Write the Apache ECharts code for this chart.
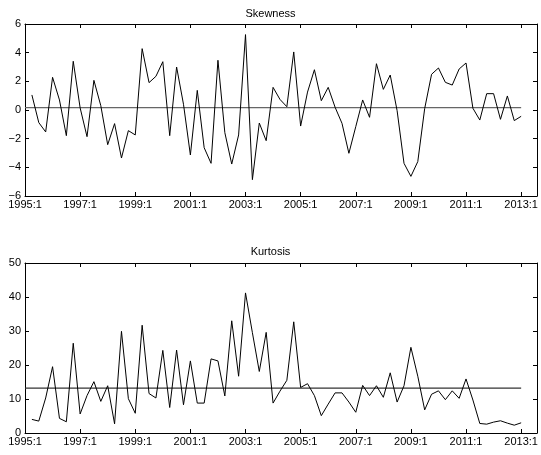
<!DOCTYPE html>
<html><head><meta charset="utf-8">
<script src="https://cdn.jsdelivr.net/npm/echarts@6/dist/echarts.min.js"></script>
<style>html,body{margin:0;padding:0;background:#fff}#c{width:541px;height:455px}</style>
</head><body><div id="c"></div>
<script>
// quarters from 1995:2 to 2013:1 (index 1..72 counting quarters since 1995:1)
const startYear = 1995;
const skewness = [1.05,-0.88,-1.53,2.28,0.70,-1.79,3.40,0.15,-1.86,2.07,0.30,-2.42,-0.95,-3.35,-1.44,-1.74,
  4.28,1.91,2.35,3.37,-1.79,3.00,0.40,-3.14,1.37,-2.63,-3.72,3.47,-1.58,-3.77,-1.74,5.26,-4.86,-0.91,-2.14,1.58,
  0.74,0.23,4.05,-1.12,1.25,2.81,0.65,1.58,0.19,-0.93,-3.02,-1.16,0.70,-0.51,3.23,1.44,2.44,-0.05,-3.72,-4.63,
  -3.60,0.10,2.49,2.93,1.93,1.74,2.86,3.28,0.12,-0.70,1.14,1.14,-0.65,0.98,-0.74,-0.44];
const kurtosis = [4.0,3.5,10.3,19.5,4.3,3.3,26.4,5.6,11.0,15.1,9.3,13.9,2.7,29.9,10.1,5.8,
  31.7,11.6,10.3,24.3,7.5,24.4,8.3,21.2,8.8,8.8,21.8,21.2,10.9,33.0,16.7,41.2,29.5,18.1,29.6,8.8,
  12.3,15.5,32.7,13.4,14.5,11.0,5.1,8.5,11.8,11.8,9.1,6.1,14.0,11.0,13.9,10.5,17.7,9.1,13.9,25.2,
  16.7,6.8,11.4,12.4,9.8,12.4,10.2,15.9,9.7,2.8,2.6,3.2,3.6,2.9,2.3,3.0];
const skewMean = 0.16;
const kurtMean = 13.2;
const titles = ['Skewness','Kurtosis'];

const toPairs = arr => arr.map((v,i)=>[i+1,v]);
const meanLine = m => [[0,m],[skewness.length,m]];
const font = "'Liberation Sans', Arial, Helvetica, sans-serif";
const xLab = v => (Math.abs(v % 8) < 1e-9) ? (startYear + v/4) + ':1' : '';
const yLab = v => String(v).replace('-', '\u2212');

const grids = [
  {left:25, top:24, width:512, height:172},
  {left:25, top:263, width:512, height:170}
];
const xAxes = [], yAxes = [];
const yRanges = [[-6,6,2],[0,50,10]];
[0,1].forEach(g=>{
  ['bottom','top'].forEach(pos=>{
    xAxes.push({type:'value', gridIndex:g, position:pos, min:0, max:74.3, interval:8,
      axisLine:{show:true, onZero:false, lineStyle:{color:'#000', width:1}},
      axisTick:{show:true, inside:true, length:4, lineStyle:{color:'#000'}},
      axisLabel:{show:pos==='bottom', formatter:xLab, color:'#000', fontFamily:font, fontSize:11, margin:3, showMaxLabel:false},
      splitLine:{show:false}});
  });
  ['left','right'].forEach(pos=>{
    yAxes.push({type:'value', gridIndex:g, position:pos, min:yRanges[g][0], max:yRanges[g][1], interval:yRanges[g][2],
      axisLine:{show:true, onZero:false, lineStyle:{color:'#000', width:1}},
      axisTick:{show:true, inside:true, length:4, lineStyle:{color:'#000'}},
      axisLabel:{show:pos==='left', formatter:yLab, color:'#000', fontFamily:font, fontSize:11, margin:4},
      splitLine:{show:false}});
  });
});

const option = {
  backgroundColor:'#fff',
  animation:false,
  title: [
    {text:titles[0], left:'center', top:3, textStyle:{fontFamily:font, fontSize:11, fontWeight:'normal', color:'#000'}},
    {text:titles[1], left:'center', top:241, textStyle:{fontFamily:font, fontSize:11, fontWeight:'normal', color:'#000'}}
  ],
  grid: grids,
  xAxis: xAxes,
  yAxis: yAxes,
  series: [
    {type:'line', xAxisIndex:0, yAxisIndex:0, data:meanLine(skewMean), symbol:'none', lineStyle:{color:'#666', width:1.3}},
    {type:'line', xAxisIndex:0, yAxisIndex:0, data:toPairs(skewness), symbol:'none', lineStyle:{color:'#000', width:1}},
    {type:'line', xAxisIndex:2, yAxisIndex:2, data:meanLine(kurtMean), symbol:'none', lineStyle:{color:'#333', width:1.2}},
    {type:'line', xAxisIndex:2, yAxisIndex:2, data:toPairs(kurtosis), symbol:'none', lineStyle:{color:'#000', width:1}}
  ]
};
const chart = echarts.init(document.getElementById('c'), null, {renderer:'canvas'});
chart.setOption(option);
</script></body></html>
